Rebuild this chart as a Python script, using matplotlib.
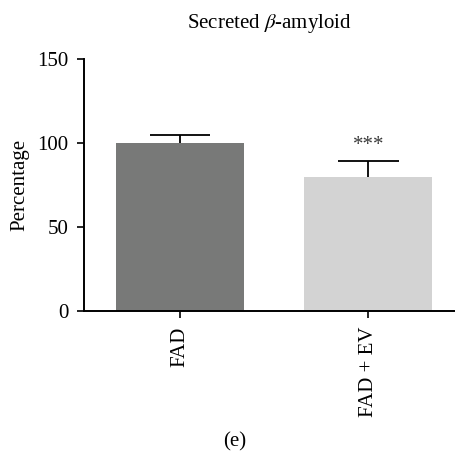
import numpy as np
import matplotlib.pyplot as plt

plt.rcParams['font.family'] = ['Liberation Serif', 'DejaVu Serif']
plt.rcParams['mathtext.fontset'] = 'stix'

groups = ['FAD', 'FAD + EV']
values = [100, 80]
errors = [5, 9]
colors = ['#787978', '#d3d3d3']
marks = ['', '***']

fig = plt.figure(figsize=(4.55, 4.51), dpi=100)
ax = fig.add_axes([0.1846, 0.3104, 0.8154, 0.5588])

x = np.arange(len(groups))
tops = np.array(values) + np.array(errors)
ax.bar(x, values, width=0.68, color=colors, zorder=1)
# upward-only error bars
ax.vlines(x, values, tops, color='black', linewidth=1.3, zorder=2)
ax.hlines(tops, x - 0.16, x + 0.16, color='black', linewidth=1.3, zorder=2)
for xi, t, m in zip(x, tops, marks):
    if m:
        ax.text(xi, t + 4, m, ha='center', va='bottom', fontsize=15, color='#3a3a3a')

ax.set_xlim(-0.51, 1.46)
ax.set_ylim(0, 150)
ax.set_yticks([0, 50, 100, 150])
ax.set_xticks(x)
ax.set_xticklabels(groups, rotation=90, fontsize=15)
ax.tick_params(axis='y', labelsize=15, length=5, width=1.2, direction='out', pad=6)
ax.tick_params(axis='x', length=5, width=1.2, direction='out', pad=6)
for s in ['top', 'right']:
    ax.spines[s].set_visible(False)
for s in ['left', 'bottom']:
    ax.spines[s].set_linewidth(1.4)

ax.set_ylabel('Percentage', fontsize=15, labelpad=6)
ax.set_title(r'Secreted $\beta$-amyloid', fontsize=15, pad=22)
fig.text(0.515, 0.0, '(e)', ha='center', va='bottom', fontsize=15)

fig.savefig('out.png', dpi=100)
